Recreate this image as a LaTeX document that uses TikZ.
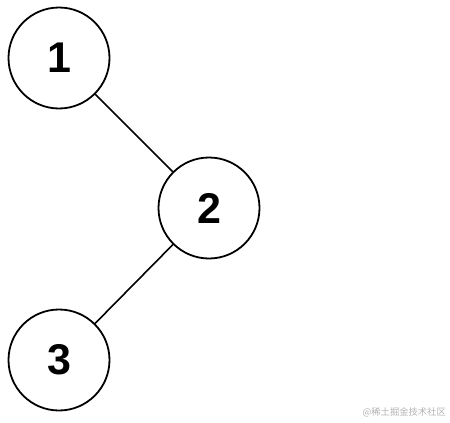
\documentclass[tikz,border=0pt]{standalone}
\usepackage{fontspec}
\setmainfont{Liberation Sans}
\newfontfamily\cjk{Noto Sans CJK SC}
\begin{document}
\begin{tikzpicture}[x=1pt,y=-1pt,
  treenode/.style={circle,draw=black,line width=1.8pt,minimum size=101pt,inner sep=0pt,font=\fontsize{43}{46}\selectfont\bfseries},
  edge/.style={draw=black,line width=1.6pt}]
\useasboundingbox (0,0) rectangle (450,423);
\node[treenode] (n1) at (59,58) {1};
\node[treenode] (n2) at (209,208) {2};
\node[treenode] (n3) at (59,360) {3};
\draw[edge] (n1) -- (n2);
\draw[edge] (n2) -- (n3);
\node[anchor=east,text=black!30,font=\cjk\fontsize{9.3}{11}\selectfont,inner sep=0pt] (wm) at (446,412) {@稀土掘金技术社区};
\end{tikzpicture}
\end{document}
